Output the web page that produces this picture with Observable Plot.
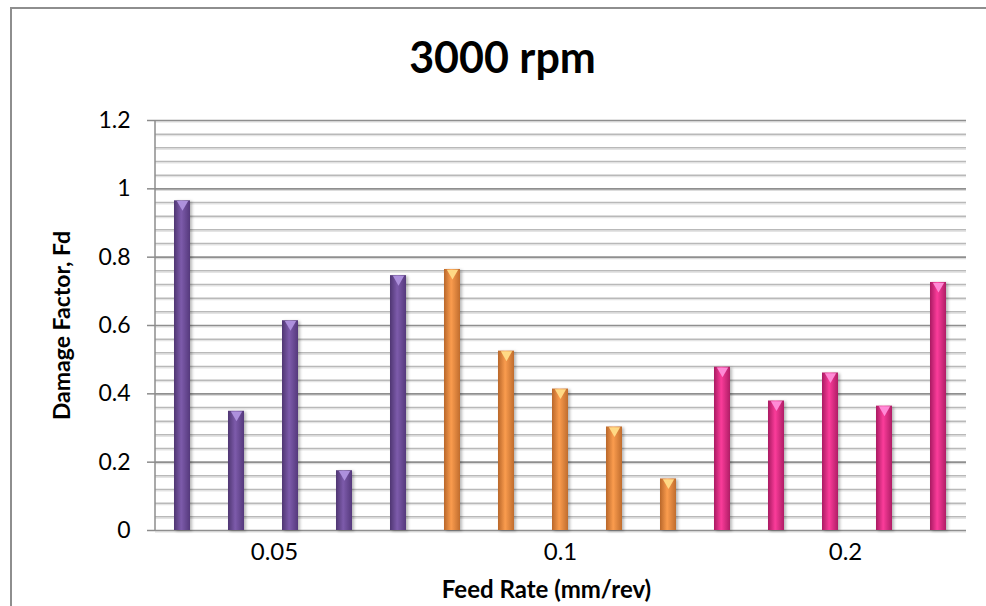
<!DOCTYPE html>
<html><head><meta charset="utf-8">
<script src="https://cdn.jsdelivr.net/npm/d3@7"></script>
<script src="https://cdn.jsdelivr.net/npm/@observablehq/plot@0.6"></script>
<style>
html,body{margin:0;padding:0;background:#fff;overflow:hidden;width:986px;height:606px;}
#wrap{position:relative;width:986px;height:606px;overflow:hidden;}
#wrap svg{display:block;}
#wrap svg g[aria-label="bar"] rect{filter:drop-shadow(2px 1px 1.5px rgba(0,0,0,0.28));}
</style></head><body><div id="wrap"></div>
<script>
const title = "3000 rpm";
const xTitle = "Feed Rate (mm/rev)";
const yTitle = "Damage Factor, Fd";
const feedRates = ["0.05", "0.1", "0.2"];
const valuesFeed005 = [0.965, 0.349, 0.614, 0.175, 0.746];
const valuesFeed01  = [0.764, 0.525, 0.414, 0.303, 0.151];
const valuesFeed02  = [0.478, 0.379, 0.461, 0.364, 0.726];
const yTicks = [0, 0.2, 0.4, 0.6, 0.8, 1, 1.2];
const yMinorTicks = [0.04,0.08,0.12,0.16,0.24,0.28,0.32,0.36,0.44,0.48,0.52,0.56,0.64,0.68,0.72,0.76,0.84,0.88,0.92,0.96,1.04,1.08,1.12,1.16];

const seriesValues = [valuesFeed005, valuesFeed01, valuesFeed02];
const rows = feedRates.flatMap((f, gi) => seriesValues[gi].map((v, i) => ({id: `${f}#${i + 1}`, feed: f, value: v})));

const groupStyles = [
  {grad: "gPurple", stops: ["#4f3672", "#7d5bab", "#55397c"], cap: "#ad90dc"},
  {grad: "gOrange", stops: ["#b9672a", "#fa9c4e", "#c06d2e"], cap: "#ffd985"},
  {grad: "gPink",   stops: ["#a91a62", "#fb3c9a", "#b01d66"], cap: "#ff8ad6"}
];

const defs = () => {
  const d = d3.create("svg:defs");
  for (const g of groupStyles) {
    const lg = d.append("linearGradient").attr("id", g.grad).attr("x1", 0).attr("x2", 1).attr("y1", 0).attr("y2", 0);
    lg.append("stop").attr("offset", "0%").attr("stop-color", g.stops[0]);
    lg.append("stop").attr("offset", "45%").attr("stop-color", g.stops[1]);
    lg.append("stop").attr("offset", "100%").attr("stop-color", g.stops[2]);
  }
  return d.node();
};

// outer chart-area border (left and top edges visible in the crop)
const chartBorder = (index, scales, values, dims) => {
  return d3.create("svg:path")
    .attr("d", `M11,${dims.height} V8 H${dims.width}`)
    .attr("fill", "none").attr("stroke", "#8e8e8e").attr("stroke-width", 2).node();
};

const leftAxisLine = (index, scales, values, dims) => {
  return d3.create("svg:line")
    .attr("x1", dims.marginLeft).attr("x2", dims.marginLeft)
    .attr("y1", scales.y(0)).attr("y2", scales.y(1.2))
    .attr("stroke", "#8c8c8c").attr("stroke-width", 1.5).node();
};

const labelOffsets = [-16, 0, 15];

const marks = [
  defs,
  chartBorder,
  Plot.ruleY(yMinorTicks, {stroke: "#e4e4e4", strokeWidth: 1.2, dy: 1.5}),
  Plot.ruleY(yMinorTicks, {stroke: "#b9b9b9", strokeWidth: 1.5}),
  Plot.ruleY(yTicks, {stroke: "#dcdcdc", strokeWidth: 1.2, dy: 1.5}),
  Plot.ruleY(yTicks, {stroke: "#8f8f8f", strokeWidth: 1.6}),
  leftAxisLine,
  Plot.axisY({ticks: yTicks, tickSize: 8, tickPadding: 17, tickFormat: d => String(+d.toFixed(1)),
    fontSize: 23, stroke: "#8c8c8c", strokeWidth: 1.5, fill: "#000", label: null}),
  ...feedRates.map((f, gi) => Plot.barY(rows.filter(d => d.feed === f), {x: "id", y: "value", fill: `url(#${groupStyles[gi].grad})`})),
  ...feedRates.map((f, gi) => Plot.dot(rows.filter(d => d.feed === f), {x: "id", y: "value", symbol: "triangle", r: 4.2, rotate: 180, dy: 3.5, fill: groupStyles[gi].cap, stroke: "none"})),
  ...feedRates.map((f, gi) => Plot.text([f], {x: d => `${d}#3`, y: () => 0, text: d => d, dy: 22, dx: labelOffsets[gi], fontSize: 24, fill: "#000"})),
  Plot.text([title], {frameAnchor: "top", lineAnchor: "middle", textAnchor: "middle", text: d => d, dy: -61, dx: -58.5, fontSize: 43, fontWeight: "bold", fill: "#000"}),
  Plot.text([yTitle], {frameAnchor: "left", lineAnchor: "middle", textAnchor: "middle", text: d => d, rotate: -90, dx: -93, fontSize: 23, fontWeight: "bold", fill: "#000"}),
  Plot.text([xTitle], {frameAnchor: "bottom", lineAnchor: "middle", textAnchor: "middle", text: d => d, dy: 60, dx: -14.5, fontSize: 24, fontWeight: "bold", fill: "#000"})
];

const chart = Plot.plot({
  width: 986, height: 606,
  marginLeft: 155, marginRight: 20, marginTop: 120, marginBottom: 76,
  style: {fontFamily: "Lato, sans-serif", background: "transparent", overflow: "hidden"},
  x: {domain: rows.map(d => d.id), paddingInner: 0.7, paddingOuter: 0.35, axis: null},
  y: {domain: [0, 1.2], axis: null},
  marks
});
document.getElementById("wrap").appendChild(chart);
</script>
</body></html>
